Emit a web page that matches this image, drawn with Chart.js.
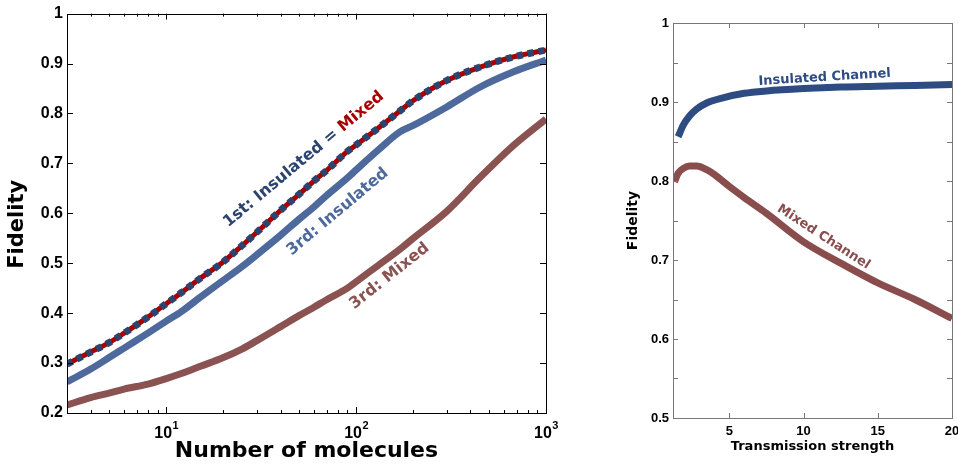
<!DOCTYPE html>
<html>
<head>
<meta charset="utf-8">
<script src="https://cdn.jsdelivr.net/npm/chart.js@4.4.0/dist/chart.umd.min.js"></script>
<style>
  html, body { margin: 0; padding: 0; background: #fff; }
  body { width: 958px; height: 467px; position: relative; overflow: hidden; }
  canvas { display: block; }
  #leftBox { position: absolute; left: 0; top: 0; width: 560px; height: 467px; }
  #rightBox { position: absolute; left: 600px; top: 0; width: 358px; height: 467px; overflow: hidden; }
</style>
</head>
<body>
<div id="leftBox"><canvas id="moleculesChart" width="560" height="467"></canvas></div>
<div id="rightBox"><canvas id="strengthChart" width="372" height="467"></canvas></div>
<script>
// Left panel: fidelity vs number of molecules (log x)
const molecules = [3, 4, 5, 6, 8, 10, 12, 15, 20, 25, 30, 40, 50, 60, 70, 90, 100, 130, 170, 200, 300, 450, 670, 1000];
const firstOrder = [0.298, 0.322, 0.341, 0.360, 0.392, 0.419, 0.441, 0.469, 0.503, 0.535, 0.562, 0.606, 0.638, 0.665, 0.686, 0.724, 0.737, 0.770, 0.805, 0.826, 0.866, 0.893, 0.913, 0.927];
const thirdInsulated = [0.262, 0.288, 0.311, 0.330, 0.360, 0.384, 0.403, 0.431, 0.466, 0.493, 0.517, 0.556, 0.588, 0.613, 0.636, 0.671, 0.687, 0.726, 0.763, 0.776, 0.813, 0.853, 0.883, 0.907];
const thirdMixed = [0.216, 0.231, 0.240, 0.248, 0.258, 0.269, 0.279, 0.293, 0.311, 0.328, 0.345, 0.373, 0.395, 0.412, 0.427, 0.450, 0.463, 0.495, 0.528, 0.550, 0.604, 0.672, 0.735, 0.789];

const xMarksLeft = [4, 5, 6, 7, 8, 9, 10, 20, 30, 40, 50, 60, 70, 80, 90, 100, 200, 300, 400, 500, 600, 700, 800, 900, 1000];
const xTickValuesLeft = [10, 100, 1000];
const xTickBase = ['10', '10', '10'];
const xTickExponent = ['1', '2', '3'];
const yTickValuesLeft = [0.2, 0.3, 0.4, 0.5, 0.6, 0.7, 0.8, 0.9, 1];
const yTickLabelsLeft = ['0.2', '0.3', '0.4', '0.5', '0.6', '0.7', '0.8', '0.9', '1'];

// Right panel: fidelity vs transmission strength
const strengthInsulated = [1.55, 1.9, 2.3, 2.8, 3.5, 4.5, 6, 7.5, 10, 12.5, 15, 17.5, 20];
const insulatedChannel = [0.856, 0.871, 0.882, 0.891, 0.899, 0.905, 0.911, 0.914, 0.917, 0.919, 0.920, 0.921, 0.922];
const strengthMixed = [1.3, 1.55, 1.9, 2.3, 2.8, 3.5, 4, 5, 6, 7.5, 10, 12.5, 15, 17.5, 20];
const mixedChannel = [0.799, 0.810, 0.816, 0.819, 0.819, 0.814, 0.808, 0.793, 0.779, 0.759, 0.723, 0.696, 0.671, 0.650, 0.626];

const xTickValuesRight = [5, 10, 15, 20];
const xTickLabelsRight = ['5', '10', '15', '20'];
const yTickValuesRight = [0.5, 0.55, 0.6, 0.65, 0.7, 0.75, 0.8, 0.85, 0.9, 0.95, 1];
const yTickLabelsRight = ['0.5', '', '0.6', '', '0.7', '', '0.8', '', '0.9', '', '1'];

const NAVY = '#2c4570', RED = '#a80000', STEEL = '#4e6a9c', BROWN = '#8b5252';
const CH_BLUE = '#2e4c82', CH_BROWN = '#8a4d4d';

Chart.defaults.font.family = '"Liberation Sans", Arial, sans-serif';

function pts(xs, ys) {
    return xs.map((x, i) => ({ x: x, y: ys[i] }));
}

function lookup(values, labels) {
    return v => {
        const i = values.findIndex(t => Math.abs(t - v) < 1e-9);
        return i < 0 ? '' : labels[i];
    };
}

// frame around the plot with inward tick marks on all four sides
function framePlugin(color, major, minor) {
    return {
        id: 'frameTicks',
        afterDatasetsDraw(chart) {
            const { ctx, chartArea: a, scales } = chart;
            ctx.save();
            ctx.strokeStyle = color;
            ctx.lineWidth = 1;
            ctx.beginPath();
            scales.x.ticks.forEach(t => {
                const px = Math.round(scales.x.getPixelForValue(t.value)) + 0.5;
                const len = t.label ? major : minor;
                ctx.moveTo(px, a.bottom); ctx.lineTo(px, a.bottom - len);
                ctx.moveTo(px, a.top); ctx.lineTo(px, a.top + len);
            });
            scales.y.ticks.forEach(t => {
                const py = Math.round(scales.y.getPixelForValue(t.value)) + 0.5;
                ctx.moveTo(a.left, py); ctx.lineTo(a.left + major, py);
                ctx.moveTo(a.right, py); ctx.lineTo(a.right - major, py);
            });
            ctx.stroke();
            ctx.strokeRect(Math.round(a.left) + 0.5, Math.round(a.top) + 0.5,
                Math.round(a.right - a.left), Math.round(a.bottom - a.top));
            ctx.restore();
        }
    };
}

// "10" with a raised exponent under the log axis
const powerLabels = {
    id: 'powerLabels',
    afterDraw(chart) {
        const { ctx, scales } = chart;
        const x = scales.x;
        ctx.save();
        ctx.fillStyle = '#000';
        ctx.textBaseline = 'middle';
        ctx.textAlign = 'left';
        xTickValuesLeft.forEach((v, i) => {
            ctx.font = 'bold 16px "Liberation Sans"';
            const wb = ctx.measureText(xTickBase[i]).width;
            ctx.font = 'bold 11px "Liberation Sans"';
            const we = ctx.measureText(xTickExponent[i]).width;
            const px = x.getPixelForValue(v) - (wb + we) / 2;
            const py = x.top + 21;
            ctx.font = 'bold 16px "Liberation Sans"';
            ctx.fillText(xTickBase[i], px, py);
            ctx.font = 'bold 11px "Liberation Sans"';
            ctx.fillText(xTickExponent[i], px + wb + 0.5, py - 8);
        });
        ctx.restore();
    }
};

// rotated text written along the curves
function labelPlugin(items, font) {
    return {
        id: 'curveLabels',
        afterDatasetsDraw(chart) {
            const { ctx, scales } = chart;
            items.forEach(item => {
                ctx.save();
                ctx.translate(scales.x.getPixelForValue(item.x), scales.y.getPixelForValue(item.y));
                ctx.rotate(item.angle * Math.PI / 180);
                ctx.font = font;
                ctx.textAlign = 'left';
                ctx.textBaseline = 'middle';
                const total = item.parts.reduce((s, p) => s + ctx.measureText(p.text).width, 0);
                let cx = -total / 2;
                item.parts.forEach(p => {
                    ctx.fillStyle = p.color;
                    ctx.fillText(p.text, cx, 0);
                    cx += ctx.measureText(p.text).width;
                });
                ctx.restore();
            });
        }
    };
}

const lineBase = { pointRadius: 0, fill: false, cubicInterpolationMode: 'monotone', borderCapStyle: 'butt' };
const noGrid = { display: false, drawTicks: false };

// ---------- left chart ----------
new Chart(document.getElementById('moleculesChart'), {
    type: 'line',
    data: {
        datasets: [
            Object.assign({ label: '1st: Insulated', data: pts(molecules, firstOrder), borderColor: NAVY, borderWidth: 7, borderDash: [6, 5], order: 0 }, lineBase),
            Object.assign({ label: '1st: Mixed', data: pts(molecules, firstOrder), borderColor: RED, borderWidth: 5, order: 1 }, lineBase),
            Object.assign({ label: '3rd: Insulated', data: pts(molecules, thirdInsulated), borderColor: STEEL, borderWidth: 7, order: 2 }, lineBase),
            Object.assign({ label: '3rd: Mixed', data: pts(molecules, thirdMixed), borderColor: BROWN, borderWidth: 7, order: 3 }, lineBase)
        ]
    },
    options: {
        responsive: false,
        animation: false,
        layout: { padding: { left: 0, right: 14, top: 13, bottom: 0 } },
        plugins: { legend: { display: false }, tooltip: { enabled: false } },
        scales: {
            x: {
                type: 'logarithmic', min: 3, max: 1000,
                grid: noGrid, border: { display: false },
                afterBuildTicks: s => { s.ticks = xMarksLeft.map(v => ({ value: v })); },
                afterFit: s => { s.height = 54; },
                ticks: { display: false, autoSkip: false, maxRotation: 0,
                    callback: lookup(xTickValuesLeft, xTickBase) },
                title: { display: true, text: 'Number of molecules', color: '#000',
                    font: { family: '"DejaVu Sans"', size: 22, weight: 'bold' }, padding: { top: 0, bottom: 3 } }
            },
            y: {
                min: 0.2, max: 1,
                grid: noGrid, border: { display: false },
                afterBuildTicks: s => { s.ticks = yTickValuesLeft.map(v => ({ value: v })); },
                afterFit: s => { s.width = 67; },
                ticks: { autoSkip: false, padding: 4, color: '#000',
                    font: { size: 16, weight: 'bold' }, callback: lookup(yTickValuesLeft, yTickLabelsLeft) },
                title: { display: true, text: 'Fidelity   ', color: '#000',
                    font: { family: '"DejaVu Sans"', size: 21, weight: 'bold' }, padding: { top: 5, bottom: 0 } }
            }
        }
    },
    plugins: [
        framePlugin('#000', 6, 3),
        powerLabels,
        labelPlugin([
            { x: 53, y: 0.708, angle: -39.7, parts: [{ text: '1st: Insulated = ', color: NAVY }, { text: 'Mixed', color: RED }] },
            { x: 80, y: 0.603, angle: -39.9, parts: [{ text: '3rd: Insulated', color: STEEL }] },
            { x: 150, y: 0.474, angle: -38.4, parts: [{ text: '3rd: Mixed', color: BROWN }] }
        ], 'bold 16px "DejaVu Sans"')
    ]
});

// ---------- right chart ----------
new Chart(document.getElementById('strengthChart'), {
    type: 'line',
    data: {
        datasets: [
            Object.assign({ label: 'Insulated Channel', data: pts(strengthInsulated, insulatedChannel), borderColor: CH_BLUE, borderWidth: 7 }, lineBase),
            Object.assign({ label: 'Mixed Channel', data: pts(strengthMixed, mixedChannel), borderColor: CH_BROWN, borderWidth: 7 }, lineBase)
        ]
    },
    options: {
        responsive: false,
        animation: false,
        layout: { padding: { left: 0, right: 20, top: 23, bottom: 0 } },
        plugins: { legend: { display: false }, tooltip: { enabled: false } },
        scales: {
            x: {
                type: 'linear', min: 1.2, max: 20,
                grid: noGrid, border: { display: false },
                afterBuildTicks: s => { s.ticks = xTickValuesRight.map(v => ({ value: v })); },
                afterFit: s => { s.height = 49; },
                ticks: { autoSkip: false, maxRotation: 0, padding: 6, color: '#000',
                    font: { size: 13, weight: 'bold' }, callback: lookup(xTickValuesRight, xTickLabelsRight) },
                title: { display: true, text: 'Transmission strength', color: '#000',
                    font: { family: '"DejaVu Sans"', size: 13, weight: 'bold' }, padding: { top: 0, bottom: 13 } }
            },
            y: {
                min: 0.5, max: 1,
                grid: noGrid, border: { display: false },
                afterBuildTicks: s => { s.ticks = yTickValuesRight.map(v => ({ value: v })); },
                afterFit: s => { s.width = 73; },
                ticks: { autoSkip: false, padding: 4, color: '#000',
                    font: { size: 13, weight: 'bold' }, callback: lookup(yTickValuesRight, yTickLabelsRight) },
                title: { display: true, text: 'Fidelity', color: '#000',
                    font: { family: '"DejaVu Sans"', size: 14, weight: 'bold' }, padding: { top: 25, bottom: 0 } }
            }
        }
    },
    plugins: [
        framePlugin('#777', 5, 5),
        labelPlugin([
            { x: 11.42, y: 0.931, angle: -3.5, parts: [{ text: 'Insulated Channel', color: CH_BLUE }] },
            { x: 11.35, y: 0.729, angle: 33, parts: [{ text: 'Mixed Channel', color: CH_BROWN }] }
        ], 'bold 13px "DejaVu Sans"')
    ]
});
</script>
</body>
</html>
